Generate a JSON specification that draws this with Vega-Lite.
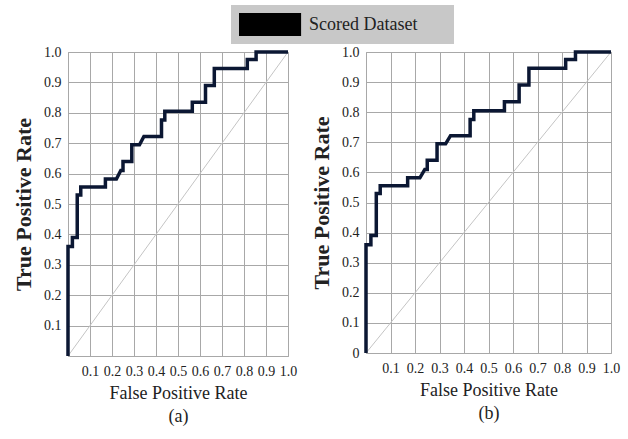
{
  "$schema": "https://vega.github.io/schema/vega-lite/v6.json",
  "background": "white",
  "padding": {"left": 12, "top": 5, "right": 5, "bottom": 5},
  "spacing": 78,
  "bounds": "flush",
  "datasets": {
    "roc": [
      {"i": 0, "fpr": 0, "tpr": 0},
      {"i": 1, "fpr": 0, "tpr": 0.36},
      {"i": 2, "fpr": 0.02, "tpr": 0.36},
      {"i": 3, "fpr": 0.02, "tpr": 0.39},
      {"i": 4, "fpr": 0.042, "tpr": 0.39},
      {"i": 5, "fpr": 0.042, "tpr": 0.53},
      {"i": 6, "fpr": 0.058, "tpr": 0.53},
      {"i": 7, "fpr": 0.058, "tpr": 0.556},
      {"i": 8, "fpr": 0.17, "tpr": 0.556},
      {"i": 9, "fpr": 0.17, "tpr": 0.582},
      {"i": 10, "fpr": 0.22, "tpr": 0.582},
      {"i": 11, "fpr": 0.24, "tpr": 0.61},
      {"i": 12, "fpr": 0.25, "tpr": 0.61},
      {"i": 13, "fpr": 0.25, "tpr": 0.64},
      {"i": 14, "fpr": 0.29, "tpr": 0.64},
      {"i": 15, "fpr": 0.29, "tpr": 0.695},
      {"i": 16, "fpr": 0.325, "tpr": 0.695},
      {"i": 17, "fpr": 0.345, "tpr": 0.722},
      {"i": 18, "fpr": 0.425, "tpr": 0.722},
      {"i": 19, "fpr": 0.425, "tpr": 0.776},
      {"i": 20, "fpr": 0.44, "tpr": 0.776},
      {"i": 21, "fpr": 0.44, "tpr": 0.805},
      {"i": 22, "fpr": 0.565, "tpr": 0.805},
      {"i": 23, "fpr": 0.565, "tpr": 0.835},
      {"i": 24, "fpr": 0.625, "tpr": 0.835},
      {"i": 25, "fpr": 0.625, "tpr": 0.89},
      {"i": 26, "fpr": 0.665, "tpr": 0.89},
      {"i": 27, "fpr": 0.665, "tpr": 0.946},
      {"i": 28, "fpr": 0.815, "tpr": 0.946},
      {"i": 29, "fpr": 0.815, "tpr": 0.975},
      {"i": 30, "fpr": 0.855, "tpr": 0.975},
      {"i": 31, "fpr": 0.855, "tpr": 1.0},
      {"i": 32, "fpr": 1.0, "tpr": 1.0}
    ],
    "diag": [
      {"i": 0, "fpr": 0, "tpr": 0},
      {"i": 1, "fpr": 1, "tpr": 1}
    ]
  },
  "config": {
    "font": "Liberation Serif",
    "view": {"stroke": "#a8a8a8", "strokeWidth": 1},
    "axis": {
      "grid": true,
      "gridColor": "#a8a8a8",
      "gridOpacity": 1,
      "gridWidth": 1,
      "ticks": false,
      "domain": false,
      "labelOverlap": false,
      "labelFlush": false,
      "labelFont": "Liberation Serif",
      "labelFontSize": 14,
      "labelColor": "#222222",
      "titleFont": "Liberation Serif",
      "titleColor": "#222222",
      "titleFontWeight": "normal"
    },
    "axisX": {"labelPadding": 8, "titleFontSize": 18, "titlePadding": 6, "titleLineHeight": 23},
    "axisY": {"labelPadding": 7, "titleFontSize": 22, "titleFontWeight": "bold", "titlePadding": 8},
    "legend": {
      "orient": "none",
      "legendX": 163,
      "legendY": -47,
      "fillColor": "#c8c8c8",
      "padding": 8,
      "labelFont": "Liberation Serif",
      "labelFontSize": 18,
      "labelColor": "#222222"
    }
  },
  "hconcat": [
    {
      "width": 220,
      "height": 304,
      "encoding": {
        "x": {"field": "fpr", "type": "quantitative", "scale": {"domain": [0, 1], "nice": false},
          "axis": {"title": ["False Positive Rate", "(a)"], "values": [0, 0.1, 0.2, 0.3, 0.4, 0.5, 0.6, 0.7, 0.8, 0.9, 1.0],
            "labelFont": "Liberation Serif", "titleFont": "Liberation Serif", "labelOverlap": false, "labelFlush": false,
            "labelExpr": "datum.value == 0 ? '' : format(datum.value, '.1f')"}},
        "y": {"field": "tpr", "type": "quantitative", "scale": {"domain": [0, 1], "nice": false},
          "axis": {"title": "True Positive Rate", "values": [0, 0.1, 0.2, 0.3, 0.4, 0.5, 0.6, 0.7, 0.8, 0.9, 1.0],
            "labelFont": "Liberation Serif", "titleFont": "Liberation Serif", "labelOverlap": false, "labelFlush": false,
            "labelExpr": "datum.value == 0 ? '' : format(datum.value, '.1f')"}},
        "order": {"field": "i"}
      },
      "layer": [
        {
          "data": {"name": "diag"},
          "mark": {"type": "line", "color": "#c4c4c4", "strokeWidth": 1}
        },
        {
          "data": {"name": "roc"},
          "mark": {"type": "line", "strokeWidth": 3.5, "strokeJoin": "miter"},
          "encoding": {
            "color": {
              "datum": "Scored Dataset",
              "type": "nominal",
              "scale": {"range": ["#0b1733"]},
              "legend": {
                "title": null,
                "symbolType": "M-1,-1H4.4V1H-1Z M17,0",
                "symbolSize": 529,
                "labelOffset": 47,
                "encode": {"symbols": {"update": {"fill": {"value": "black"}, "stroke": {"value": "black"}, "strokeWidth": {"value": 0}, "opacity": {"value": 1}}}}
              }
            }
          }
        }
      ]
    },
    {
      "width": 245,
      "height": 301,
      "encoding": {
        "x": {"field": "fpr", "type": "quantitative", "scale": {"domain": [0, 1], "nice": false},
          "axis": {"title": ["False Positive Rate", "(b)"], "values": [0, 0.1, 0.2, 0.3, 0.4, 0.5, 0.6, 0.7, 0.8, 0.9, 1.0],
            "labelFont": "Liberation Serif", "titleFont": "Liberation Serif", "labelOverlap": false, "labelFlush": false,
            "labelExpr": "datum.value == 0 ? '' : format(datum.value, '.1f')"}},
        "y": {"field": "tpr", "type": "quantitative", "scale": {"domain": [0, 1], "nice": false},
          "axis": {"title": "True Positive Rate", "values": [0, 0.1, 0.2, 0.3, 0.4, 0.5, 0.6, 0.7, 0.8, 0.9, 1.0],
            "labelFont": "Liberation Serif", "titleFont": "Liberation Serif", "labelOverlap": false, "labelFlush": false,
            "labelExpr": "datum.value == 0 ? '0' : format(datum.value, '.1f')"}},
        "order": {"field": "i"}
      },
      "layer": [
        {
          "data": {"name": "diag"},
          "mark": {"type": "line", "color": "#c4c4c4", "strokeWidth": 1}
        },
        {
          "data": {"name": "roc"},
          "mark": {"type": "line", "strokeWidth": 3.5, "strokeJoin": "miter", "color": "#0b1733"}
        }
      ]
    }
  ]
}
